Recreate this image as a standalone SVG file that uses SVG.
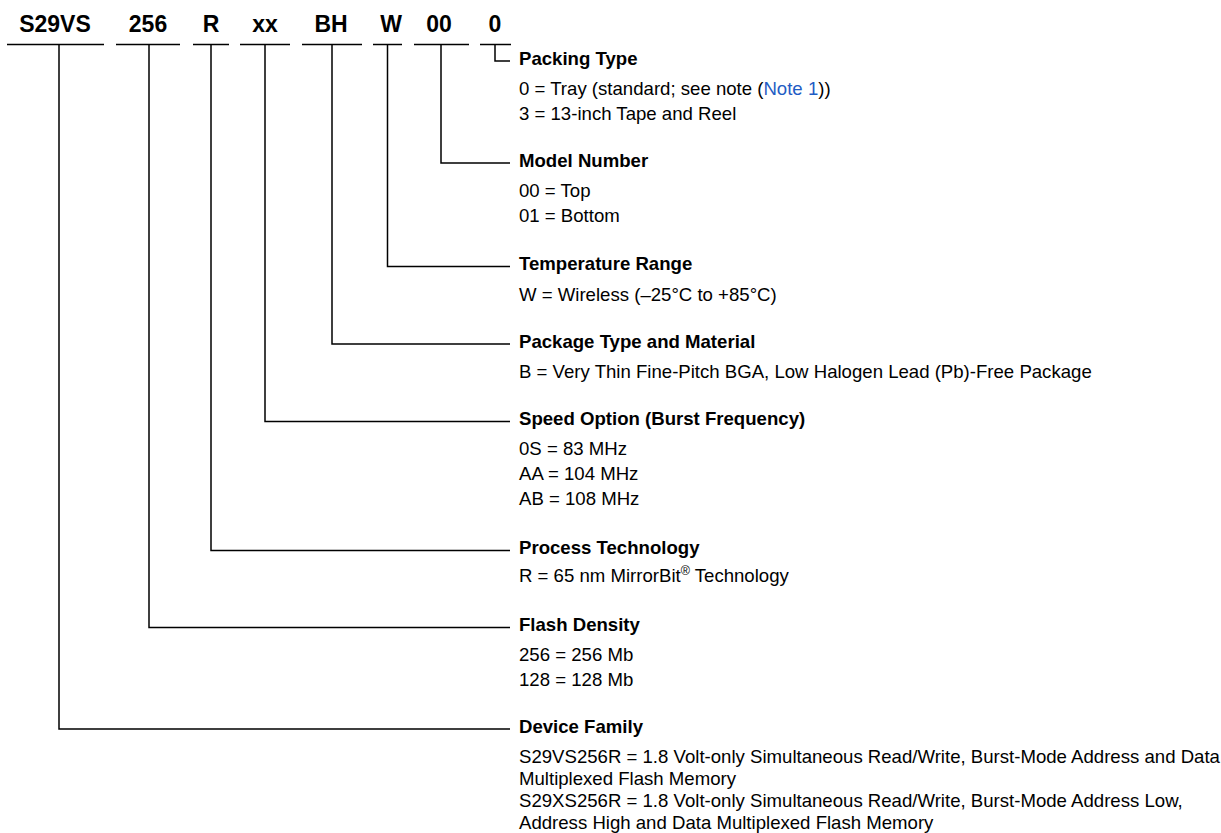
<svg xmlns="http://www.w3.org/2000/svg" width="1221" height="833" viewBox="0 0 1221 833">
<style>
.code{font-family:"Liberation Sans",Arial,sans-serif;font-weight:bold;font-size:23px;fill:#000;text-anchor:middle}
.h{font-family:"Liberation Sans",Arial,sans-serif;font-weight:bold;font-size:18.6px;fill:#000}
.t{font-family:"Liberation Sans",Arial,sans-serif;font-size:18.6px;fill:#000}
.link{fill:#1f5cc4}
.ul{stroke:#000;stroke-width:1.5;fill:none}
.conn{stroke:#000;stroke-width:1.5;fill:none}
</style>
<rect width="1221" height="833" fill="#fff"/>
<g id="code-s29vs"><text class="code" x="55" y="32">S29VS</text><line class="ul" x1="7" y1="44.5" x2="104" y2="44.5"/></g>
<g id="code-256"><text class="code" x="148" y="32">256</text><line class="ul" x1="116" y1="44.5" x2="180" y2="44.5"/></g>
<g id="code-r"><text class="code" x="211" y="32">R</text><line class="ul" x1="193" y1="44.5" x2="229" y2="44.5"/></g>
<g id="code-xx"><text class="code" x="265" y="32">xx</text><line class="ul" x1="240" y1="44.5" x2="290" y2="44.5"/></g>
<g id="code-bh"><text class="code" x="331" y="32">BH</text><line class="ul" x1="302" y1="44.5" x2="362" y2="44.5"/></g>
<g id="code-w"><text class="code" x="391" y="32">W</text><line class="ul" x1="373" y1="44.5" x2="402" y2="44.5"/></g>
<g id="code-00"><text class="code" x="439" y="32">00</text><line class="ul" x1="414" y1="44.5" x2="469" y2="44.5"/></g>
<g id="code-0"><text class="code" x="495" y="32">0</text><line class="ul" x1="480" y1="44.5" x2="511" y2="44.5"/></g>

<g id="connectors">
<polyline class="conn" points="495,44.5 495,61 510,61"/>
<polyline class="conn" points="441,44.5 441,163 510,163"/>
<polyline class="conn" points="387.5,44.5 387.5,266.5 510,266.5"/>
<polyline class="conn" points="332,44.5 332,344 510,344"/>
<polyline class="conn" points="265,44.5 265,421.5 510,421.5"/>
<polyline class="conn" points="211,44.5 211,550.5 510,550.5"/>
<polyline class="conn" points="149,44.5 149,627.5 510,627.5"/>
<polyline class="conn" points="59,44.5 59,729 510,729"/>
</g>

<g id="packing-type">
<text class="h" x="519" y="65">Packing Type</text>
<text class="t" x="519" y="95">0 = Tray (standard; see note (<tspan class="link">Note 1</tspan>))</text>
<text class="t" x="519" y="120">3 = 13-inch Tape and Reel</text>
</g>
<g id="model-number">
<text class="h" x="519" y="167">Model Number</text>
<text class="t" x="519" y="197">00 = Top</text>
<text class="t" x="519" y="222">01 = Bottom</text>
</g>
<g id="temperature-range">
<text class="h" x="519" y="270">Temperature Range</text>
<text class="t" x="519" y="301">W = Wireless (–25°C to +85°C)</text>
</g>
<g id="package-type">
<text class="h" x="519" y="347.5">Package Type and Material</text>
<text class="t" x="519" y="377.5">B = Very Thin Fine-Pitch BGA, Low Halogen Lead (Pb)-Free Package</text>
</g>
<g id="speed-option">
<text class="h" x="519" y="425">Speed Option (Burst Frequency)</text>
<text class="t" x="519" y="455">0S = 83 MHz</text>
<text class="t" x="519" y="480">AA = 104 MHz</text>
<text class="t" x="519" y="505">AB = 108 MHz</text>
</g>
<g id="process-technology">
<text class="h" x="519" y="554">Process Technology</text>
<text class="t" x="519" y="582">R = 65 nm MirrorBit<tspan font-size="12.5" dy="-7">®</tspan><tspan dy="7"> Technology</tspan></text>
</g>
<g id="flash-density">
<text class="h" x="519" y="631">Flash Density</text>
<text class="t" x="519" y="661">256 = 256 Mb</text>
<text class="t" x="519" y="686">128 = 128 Mb</text>
</g>
<g id="device-family">
<text class="h" x="519" y="733">Device Family</text>
<text class="t" x="519" y="763">S29VS256R = 1.8 Volt-only Simultaneous Read/Write, Burst-Mode Address and Data</text>
<text class="t" x="519" y="785">Multiplexed Flash Memory</text>
<text class="t" x="519" y="807">S29XS256R = 1.8 Volt-only Simultaneous Read/Write, Burst-Mode Address Low,</text>
<text class="t" x="519" y="829">Address High and Data Multiplexed Flash Memory</text>
</g>
</svg>
